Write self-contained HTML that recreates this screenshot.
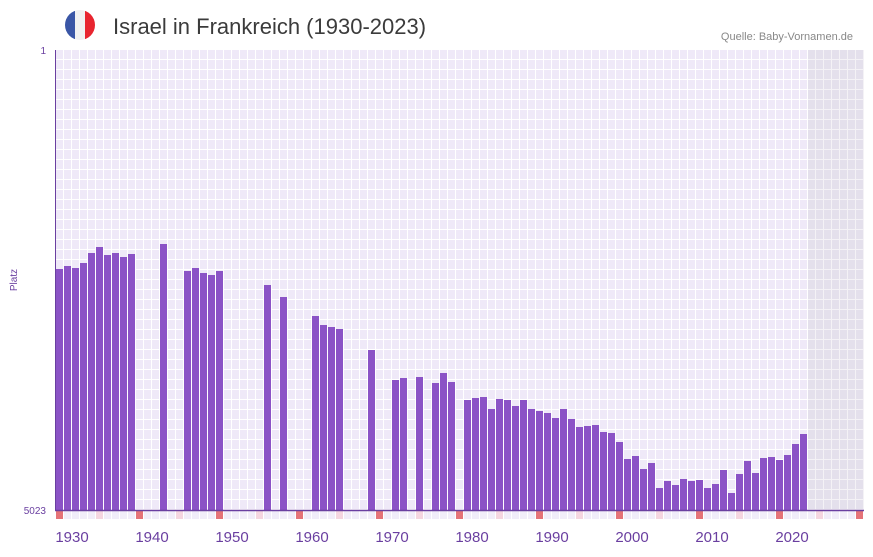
<!DOCTYPE html>
<html><head><meta charset="utf-8"><style>
body{margin:0;background:#fff;width:873px;height:552px;overflow:hidden;font-family:"Liberation Sans",sans-serif}
</style></head><body>
<svg width="873" height="552" xmlns="http://www.w3.org/2000/svg" font-family="Liberation Sans, sans-serif">
<defs>
<pattern id="g" x="56" y="50" width="8" height="10" patternUnits="userSpaceOnUse">
<rect width="8" height="10" fill="#fff"/><rect x="0" y="0" width="7" height="9" fill="#efe9f8"/>
</pattern>
<pattern id="g2" x="56" y="50" width="8" height="10" patternUnits="userSpaceOnUse">
<rect width="8" height="10" fill="#f4f2f6"/><rect x="0" y="0" width="7" height="9" fill="#e4e0ec"/>
</pattern>
<clipPath id="c"><circle cx="80" cy="25" r="15"/></clipPath>
</defs>
<g clip-path="url(#c)"><rect x="65" y="10" width="10" height="30" fill="#3a56a6"/><rect x="75" y="10" width="10" height="30" fill="#f1f1f1"/><rect x="85" y="10" width="10" height="30" fill="#e8252f"/></g>
<text x="113" y="34" font-size="22" fill="#3b3b3b">Israel in Frankreich (1930-2023)</text>
<text x="853" y="40" font-size="11" fill="#888" text-anchor="end">Quelle: Baby-Vornamen.de</text>
<rect x="56" y="50" width="752" height="460" fill="url(#g)"/>
<rect x="808" y="50" width="56" height="460" fill="url(#g2)"/>
<g fill="#8a55c8">
<script type="text/plain"></script>
</g>
<g id="bars" fill="#8b53c6"></g>
<g id="mk"></g>
<line x1="55.5" y1="50" x2="55.5" y2="510" stroke="#6a3fa0" stroke-width="1"/>
<line x1="55" y1="510.5" x2="864" y2="510.5" stroke="#6a3fa0" stroke-width="1.5"/>
<text x="46" y="54" font-size="10" fill="#6a3fa0" text-anchor="end">1</text>
<text x="46" y="514" font-size="10" fill="#6a3fa0" text-anchor="end">5023</text>
<text transform="translate(17,280) rotate(-90)" font-size="10" fill="#6a3fa0" text-anchor="middle">Platz</text>
<g font-size="15" fill="#6a3fa0" text-anchor="middle">
<text x="72" y="542">1930</text><text x="152" y="542">1940</text><text x="232" y="542">1950</text><text x="312" y="542">1960</text><text x="392" y="542">1970</text><text x="472" y="542">1980</text><text x="552" y="542">1990</text><text x="632" y="542">2000</text><text x="712" y="542">2010</text><text x="792" y="542">2020</text>
</g>
</svg>
<script>
var d={1930:269,1931:266,1932:268,1933:263,1934:253,1935:247,1936:255,1937:253,1938:257,1939:254,1943:244,1946:271,1947:268,1948:273,1949:275,1950:271,1956:285,1958:297,1962:316,1963:325,1964:327,1965:329,1969:350,1972:380,1973:378,1975:377,1977:383,1978:373,1979:382,1981:400,1982:398,1983:397,1984:409,1985:399,1986:400,1987:406,1988:400,1989:409,1990:411,1991:413,1992:418,1993:409,1994:419,1995:427,1996:426,1997:425,1998:432,1999:433,2000:442,2001:459,2002:456,2003:469,2004:463,2005:488,2006:481,2007:485,2008:479,2009:481,2010:480,2011:488,2012:484,2013:470,2014:493,2015:474,2016:461,2017:473,2018:458,2019:457,2020:460,2021:455,2022:444,2023:434};
var ns="http://www.w3.org/2000/svg",b=document.getElementById("bars"),m=document.getElementById("mk");
for(var y in d){var r=document.createElementNS(ns,"rect");var x=56+(y-1930)*8;r.setAttribute("x",x);r.setAttribute("y",d[y]);r.setAttribute("width",7);r.setAttribute("height",510-d[y]);b.appendChild(r);}
for(var y=1930;y<=2030;y++){var r=document.createElementNS(ns,"rect");r.setAttribute("x",56+(y-1930)*8);r.setAttribute("y",511);r.setAttribute("width",7);r.setAttribute("height",8);r.setAttribute("fill",y%10==0?"#e57378":(y%5==0?"#f5d6e0":"#f1edf9"));m.appendChild(r);}
</script>
</body></html>
